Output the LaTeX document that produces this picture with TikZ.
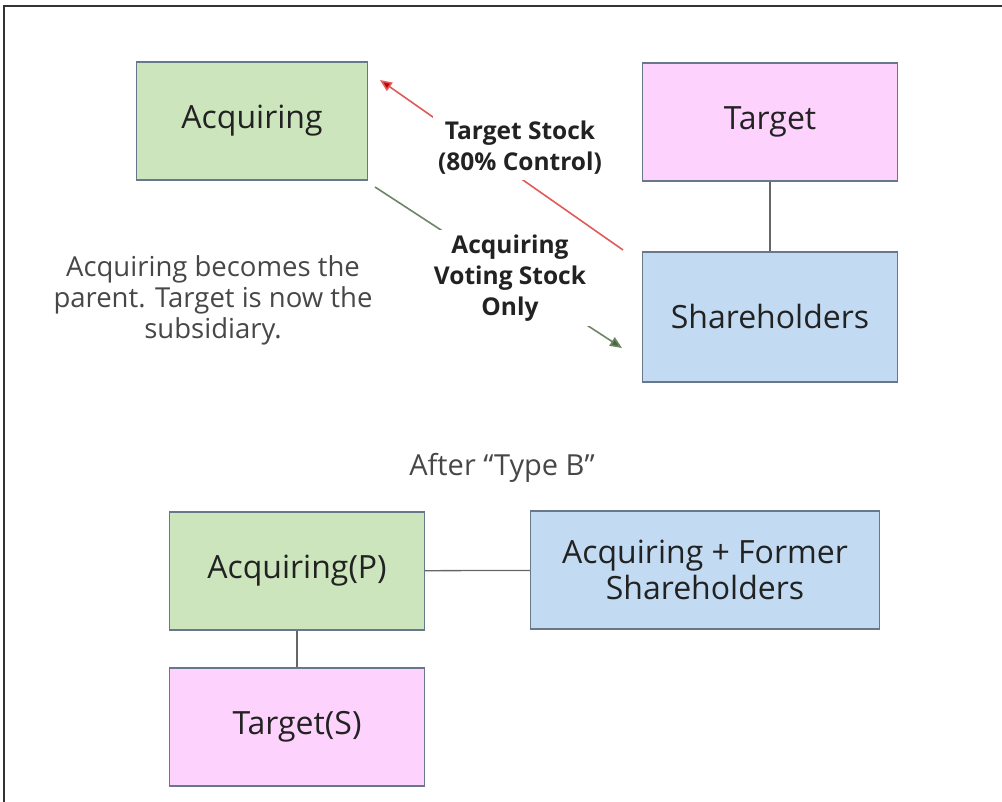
\documentclass[tikz,border=0pt]{standalone}
\usepackage{fontspec}
\setmainfont{Open Sans}
\usetikzlibrary{arrows.meta}
\definecolor{boxline}{HTML}{66788A}
\definecolor{acqfill}{HTML}{CCE5BC}
\definecolor{tgtfill}{HTML}{FDD2FD}
\definecolor{shfill}{HTML}{C2DBF2}
\definecolor{redline}{HTML}{E05A5A}
\definecolor{redhead}{HTML}{C00000}
\definecolor{grnline}{HTML}{6E8466}
\definecolor{grnhead}{HTML}{46683A}
\definecolor{txt}{HTML}{222222}
\begin{document}
\begin{tikzpicture}[x=1pt,y=-1pt,
  ent/.style={draw=boxline,line width=1.3pt,minimum height=118pt,inner sep=0pt,
    font=\fontsize{32}{36}\selectfont,text=txt,align=center},
  link/.style={draw=black!60,line width=1.3pt},
  lbl/.style={font=\bfseries\fontsize{24.5}{31}\selectfont,text=txt,align=center,
    fill=white,inner sep=5pt},
  note/.style={font=\fontsize{27.5}{31}\selectfont,text=black!72,align=center}]
\useasboundingbox (0,0) rectangle (1002,802);
% outer frame (top and left edges)
\draw[black!80,line width=2pt] (4,802) -- (4,6) -- (1002,6);

% before the exchange
\node[ent,fill=acqfill,minimum width=231pt] (acq) at (252,121) {Acquiring};
\node[ent,fill=tgtfill,minimum width=255pt] (tgt) at (770,122) {Target};
\node[ent,fill=shfill,minimum width=255pt,minimum height=130pt] (sh) at (770,317) {Shareholders};
\draw[link] (tgt) -- (sh);

\coordinate (redfrom) at (623,250);
\coordinate (redto) at (380,80);
\coordinate (grnfrom) at (375,187);
\coordinate (grnto) at (622,348);
\draw[redline,line width=1.6pt,-{Triangle[length=12pt,width=10pt,fill=redhead]}] (redfrom) -- (redto);
\draw[grnline,line width=1.6pt,-{Triangle[length=12pt,width=10pt,fill=grnhead]}] (grnfrom) -- (grnto);
\node[lbl] (redlbl) at (520,148) {Target Stock\\(80\% Control)};
\node[lbl] (grnlbl) at (510,278) {Acquiring\\Voting Stock\\Only};

\node[note] (expl) at (213,300) {Acquiring becomes the\\parent. Target is now the\\subsidiary.};

% after the exchange
\node[note,font=\fontsize{29}{31}\selectfont] (after) at (502,468) {After “Type B”};
\node[ent,fill=acqfill,minimum width=255pt] (par) at (297,571) {Acquiring(P)};
\node[ent,fill=shfill,minimum width=349pt] (own) at (705,570) {Acquiring + Former\\Shareholders};
\node[ent,fill=tgtfill,minimum width=255pt] (sub) at (297,727) {Target(S)};
\draw[link] (par) -- (own);
\draw[link] (par) -- (sub);
\end{tikzpicture}
\end{document}
